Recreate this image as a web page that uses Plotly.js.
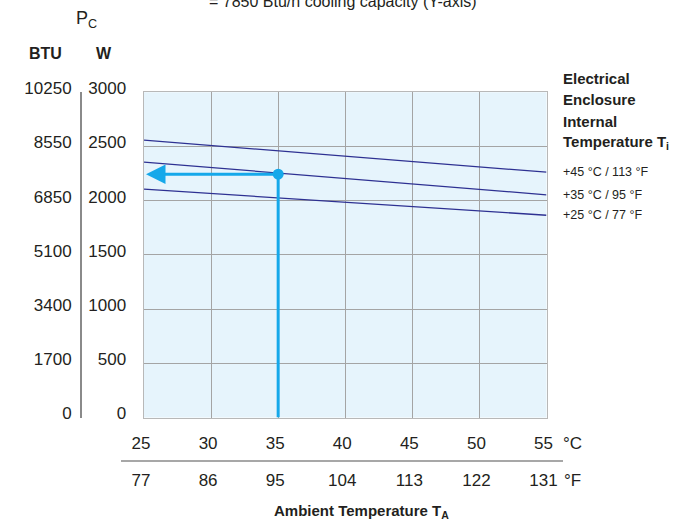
<!DOCTYPE html>
<html>
<head>
<meta charset="utf-8">
<script src="https://cdn.plot.ly/plotly-3.0.1.min.js"></script>
<style>html,body{margin:0;padding:0;background:#fff;}#chart{width:689px;height:524px;}</style>
</head>
<body>
<div id="chart"></div>
<script>
// ---- data ----
const ambientC = [25, 55];
const line45 = [2559, 2263];
const line35 = [2356, 2054];
const line25 = [2106, 1866];
const lineLabels = ['+45 °C / 113 °F', '+35 °C / 95 °F', '+25 °C / 77 °F'];
const opTemp = 35;
const opPower = 2245;
const cTicks = [25, 30, 35, 40, 45, 50, 55];
const fTicks = [77, 86, 95, 104, 113, 122, 131];
const wTicks = [0, 500, 1000, 1500, 2000, 2500, 3000];
const btuLabels = ['0', '1700', '3400', '5100', '6850', '8550', '10250'];

// ---- layout helpers (pixel -> paper) ----
const W = 689, H = 524;
const px = v => v / W;
const py = v => 1 - v / H;
const FONT = 'Liberation Sans, Arial, sans-serif';
const TXT = '#231f20';
const NAVY = '#2e3192';
const CYAN = '#15a8ea';

const traces = [
  {x: ambientC, y: line45, mode: 'lines', line: {color: NAVY, width: 1.3}, hoverinfo: 'skip'},
  {x: ambientC, y: line35, mode: 'lines', line: {color: NAVY, width: 1.3}, hoverinfo: 'skip'},
  {x: ambientC, y: line25, mode: 'lines', line: {color: NAVY, width: 1.3}, hoverinfo: 'skip'},
  {x: [opTemp, opTemp], y: [0, opPower], mode: 'lines', line: {color: CYAN, width: 3}, hoverinfo: 'skip'},
  {x: [opTemp], y: [opPower], mode: 'markers', marker: {color: CYAN, size: 11}, hoverinfo: 'skip'},
  // invisible carriers so the secondary (°F / BTU) axes are drawn
  {x: [fTicks[0], fTicks[fTicks.length - 1]], y: [0, 0], xaxis: 'x2', yaxis: 'y', mode: 'markers',
   marker: {opacity: 0, size: 1}, hoverinfo: 'skip'},
  {x: [25, 25], y: [wTicks[0], wTicks[wTicks.length - 1]], xaxis: 'x', yaxis: 'y2', mode: 'markers',
   marker: {opacity: 0, size: 1}, hoverinfo: 'skip'}
];

const annotations = [
  {x: 25.15, y: opPower, ax: opTemp, ay: opPower, xref: 'x', yref: 'y', axref: 'x', ayref: 'y',
   text: '', showarrow: true, arrowhead: 2, arrowsize: 1.3, arrowwidth: 3, arrowcolor: CYAN, standoff: 0},
  {x: px(343), y: py(2), xref: 'paper', yref: 'paper', text: '= 7850 Btu/h cooling capacity (Y-axis)',
   showarrow: false, xanchor: 'center', yanchor: 'middle', font: {size: 16, color: TXT}},
  {x: px(74), y: py(20), xref: 'paper', yref: 'paper', text: 'P<sub>C</sub>',
   showarrow: false, xanchor: 'left', yanchor: 'middle', font: {size: 18, color: TXT}},
  {x: px(45), y: py(53), xref: 'paper', yref: 'paper', text: '<b>BTU</b>',
   showarrow: false, xanchor: 'center', yanchor: 'middle', font: {size: 16, color: TXT}},
  {x: px(104), y: py(53), xref: 'paper', yref: 'paper', text: '<b>W</b>',
   showarrow: false, xanchor: 'center', yanchor: 'middle', font: {size: 16, color: TXT}},
  {x: px(561), y: py(443), xref: 'paper', yref: 'paper', text: '°C',
   showarrow: false, xanchor: 'left', yanchor: 'middle', font: {size: 17, color: TXT}},
  {x: px(562), y: py(480), xref: 'paper', yref: 'paper', text: '°F',
   showarrow: false, xanchor: 'left', yanchor: 'middle', font: {size: 17, color: TXT}},
  {x: px(361), y: py(511), xref: 'paper', yref: 'paper', text: '<b>Ambient Temperature T<sub>A</sub></b>',
   showarrow: false, xanchor: 'center', yanchor: 'middle', font: {size: 15, color: TXT}}
];
['Electrical', 'Enclosure', 'Internal', 'Temperature T<sub>i</sub>'].forEach((t, i) => {
  annotations.push({x: px(561), y: py([79, 100, 121, 142][i]), xref: 'paper', yref: 'paper',
    text: '<b>' + t + '</b>', showarrow: false, xanchor: 'left', yanchor: 'middle',
    font: {size: 15, color: TXT}});
});
[line45, line35, line25].forEach((ln, i) => {
  annotations.push({x: px(561), y: ln[ln.length - 1], xref: 'paper', yref: 'y',
    text: lineLabels[i], showarrow: false, xanchor: 'left', yanchor: 'middle',
    font: {size: 12.5, color: TXT}});
});

const layout = {
  width: W, height: H,
  margin: {l: 0, r: 0, t: 0, b: 0},
  paper_bgcolor: '#fff',
  plot_bgcolor: '#e6f4fc',
  showlegend: false,
  font: {family: FONT, color: TXT, size: 17},
  xaxis: {
    domain: [px(144), px(546.5)], range: [25, 55], tickmode: 'array', tickvals: cTicks,
    ticktext: cTicks.map(String), showgrid: true, gridcolor: '#a4a4a4', gridwidth: 1,
    showline: true, mirror: true, linecolor: '#b8b8b8', linewidth: 1.5, ticks: '',
    zeroline: false, ticklabelstandoff: 10, ticklabelshift: -3, tickfont: {size: 17, color: TXT}, fixedrange: true
  },
  xaxis2: {
    overlaying: 'x', anchor: 'free', position: py(461), side: 'bottom', range: [77, 131],
    tickmode: 'array', tickvals: fTicks, ticktext: fTicks.map(String), showgrid: false,
    showline: false, zeroline: false, ticks: '', ticklabelstandoff: 7, ticklabelshift: -3,
    tickfont: {size: 17, color: TXT}, fixedrange: true
  },
  yaxis: {
    domain: [py(417.5), py(92.3)], range: [0, 3000], tickmode: 'array', tickvals: wTicks,
    ticktext: wTicks.map(String), showgrid: true, gridcolor: '#a4a4a4', gridwidth: 1,
    showline: true, mirror: true, linecolor: '#b8b8b8', linewidth: 1.5, ticks: '',
    zeroline: false, ticklabelstandoff: 13, ticklabelshift: -4, tickfont: {size: 17, color: TXT}, fixedrange: true
  },
  yaxis2: {
    overlaying: 'y', anchor: 'free', position: px(80), side: 'left', range: [0, 3000],
    tickmode: 'array', tickvals: wTicks, ticktext: btuLabels, showgrid: false,
    showline: true, linecolor: '#8a8a8a', linewidth: 1.5, zeroline: false, ticks: '',
    ticklabelstandoff: 5, ticklabelshift: -4, tickfont: {size: 17, color: TXT}, fixedrange: true
  },
  shapes: [
    {type: 'line', xref: 'paper', yref: 'paper', x0: px(121), x1: px(563), y0: py(461), y1: py(461),
     line: {color: '#8a8a8a', width: 1.5}}
  ],
  annotations: annotations
};

Plotly.newPlot('chart', traces, layout, {staticPlot: true, displayModeBar: false});
</script>
</body>
</html>
